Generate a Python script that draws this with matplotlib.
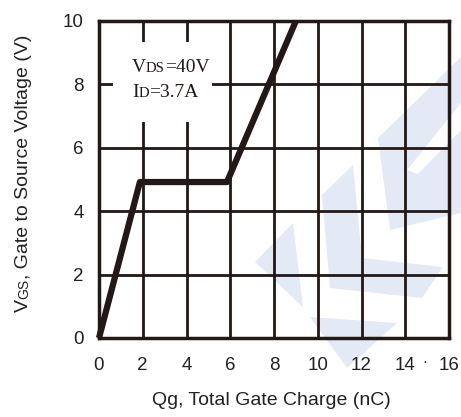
import matplotlib
matplotlib.use("Agg")
import matplotlib.pyplot as plt
from matplotlib.patches import Polygon, Rectangle

# gate charge curve
qg = [0.0, 1.87, 5.85, 9.0]
vgs = [0.0, 4.92, 4.92, 10.0]

xticks = [0, 2, 4, 6, 8, 10, 12, 14, 16]
yticks = [0, 2, 4, 6, 8, 10]

ink = "#231815"
txt = "#222222"
wm = "#e3eaf6"
W, H = 461, 417

plt.rcParams["font.family"] = ["Liberation Sans", "DejaVu Sans"]

fig = plt.figure(figsize=(W / 100, H / 100), dpi=100)
ax = fig.add_axes([99 / W, 1 - 338 / H, 350 / W, 317 / H])
ax.set_facecolor("none")

# faint watermark behind the chart (pixel coords, y from top)
shapes = [
    [(255, 262), (293, 223), (303, 307)],
    [(310, 317), (397, 323), (347, 368)],
    [(322, 195), (353, 165), (362, 258), (443, 267), (422, 298), (330, 288)],
    [(378, 138), (461, 57), (461, 103), (407, 170), (418, 174), (461, 130),
     (461, 213), (390, 230)],
]
for s in shapes:
    pts = [(x / W, 1 - y / H) for x, y in s]
    fig.patches.append(Polygon(pts, closed=True, transform=fig.transFigure,
                               facecolor=wm, edgecolor="none", zorder=-5))

ax.set_xlim(0, 16)
ax.set_ylim(0, 10)
ax.set_xticks(xticks)
ax.set_yticks(yticks)
ax.grid(True, color=ink, linewidth=2.0)
ax.tick_params(length=0, labelsize=13.5, colors=ink, labelcolor=txt)
ax.tick_params(axis="x", pad=14)
ax.tick_params(axis="y", pad=11)
for sp in ax.spines.values():
    sp.set_color(ink)
    sp.set_linewidth(2.5)

ax.plot(qg, vgs, color=ink, linewidth=4.5, solid_capstyle="butt", zorder=4,
        clip_on=False)

# white box behind the test condition text
ax.add_patch(Rectangle((0.64, 6.81), 4.52, 2.53, facecolor="white",
                       edgecolor="none", zorder=3))

serif = ["Liberation Serif", "DejaVu Serif"]
for y0, big, small, rest in [(8.39, "V", "DS", "=40V"), (7.60, "I", "D", "=3.7A")]:
    t1 = ax.text(1.5, y0, big, family=serif, fontsize=14, va="baseline",
                 color=ink, zorder=5)
    t2 = ax.annotate(small, xy=(1, y0), xycoords=(t1, "data"), family=serif,
                     fontsize=10.5, va="baseline", color=ink, zorder=5)
    ax.annotate(rest, xy=(1, y0), xycoords=(t2, "data"), family=serif,
                fontsize=14, va="baseline", color=ink, zorder=5)

# y label with small-cap subscript
l1 = fig.text(28 / W, 1 - 312 / H, "V", rotation=90, rotation_mode="anchor",
              ha="left", va="baseline", fontsize=14, color=txt)
l2 = fig.add_artist(plt.Annotation("GS", xy=(28 / W, 1), xycoords=("figure fraction", l1),
                                   rotation=90, rotation_mode="anchor", ha="left",
                                   va="baseline", fontsize=10, color=txt))
fig.add_artist(plt.Annotation(", Gate to Source Voltage (V)", xy=(28 / W, 1),
                              xycoords=("figure fraction", l2), rotation=90,
                              rotation_mode="anchor", ha="left", va="baseline",
                              fontsize=14, color=txt))

fig.text(271 / W, 1 - 405 / H, "Qg, Total Gate Charge (nC)", ha="center",
         va="baseline", fontsize=14, color=txt)
ax.text(0.93, -0.075, "\u00b7", transform=ax.transAxes, ha="center",
        va="center", fontsize=11, color=txt)

fig.savefig("out.png", dpi=100)
